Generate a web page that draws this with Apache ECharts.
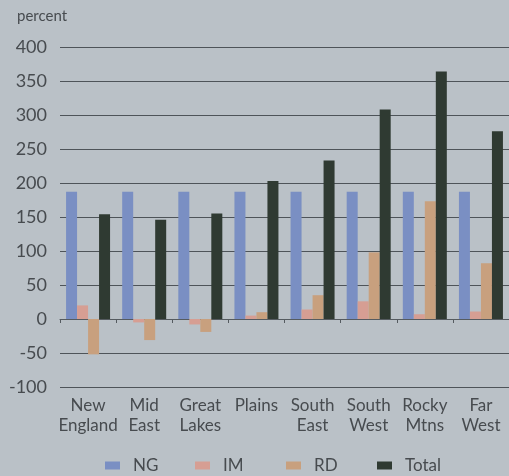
<!DOCTYPE html>
<html>
<head>
<meta charset="utf-8">
<script src="https://cdn.jsdelivr.net/npm/echarts@6/dist/echarts.min.js"></script>
<style>
  html, body { margin: 0; padding: 0; background: #bac1c7; }
  #chart { width: 509px; height: 476px; }
</style>
</head>
<body>
<div id="chart"></div>
<script>
// regions on the x axis
var regions = ['New\nEngland', 'Mid\nEast', 'Great\nLakes', 'Plains', 'South\nEast', 'South\nWest', 'Rocky\nMtns', 'Far\nWest'];

// series values (percent)
var ngValues = [187, 187, 187, 187, 187, 187, 187, 187];
var imValues = [20, -5, -8, 5, 14, 26, 7, 11];
var rdValues = [-52, -31, -19, 10, 35, 98, 173, 82];
var totalValues = [154, 146, 155, 203, 233, 308, 364, 276];

var seriesNames = ['NG', 'IM', 'RD', 'Total'];
var yTicks = { min: -100, max: 400, interval: 50 };

var myChart = echarts.init(document.getElementById('chart'));

var fontFam = 'Lato, "Open Sans", sans-serif';
var textGray = '#474b4f';

function barSeries(name, data, color) {
    return {
        name: name,
        type: 'bar',
        data: data,
        barWidth: 11,
        barGap: '0%',
        itemStyle: { color: color },
        animation: false
    };
}

// one legend per item so the spacing is even, like the original
var legendLeft = [100, 190, 281, 372];
var legends = seriesNames.map(function (n, i) {
    return {
        top: 452,
        left: legendLeft[i],
        itemWidth: 15,
        itemHeight: 8,
        icon: 'rect',
        textStyle: { color: textGray, fontSize: 17, fontFamily: fontFam, padding: [0, 0, 0, 8] },
        data: [n]
    };
});

var option = {
    backgroundColor: '#bac1c7',
    textStyle: { fontFamily: fontFam },
    grid: { left: 60, right: -7, top: 47, bottom: 89, containLabel: false },
    legend: legends,
    xAxis: {
        type: 'category',
        data: regions,
        axisLine: { onZero: true, lineStyle: { color: '#555b60', width: 1 } },
        axisTick: { show: true, length: 4, lineStyle: { color: '#555b60' } },
        axisLabel: {
            interval: 0,
            color: textGray,
            fontSize: 17,
            lineHeight: 20,
            margin: 9,
            fontFamily: fontFam
        },
        position: 'bottom'
    },
    yAxis: {
        type: 'value',
        min: yTicks.min,
        max: yTicks.max,
        interval: yTicks.interval,
        name: 'percent',
        nameLocation: 'end',
        nameGap: 23,
        nameTextStyle: { color: textGray, fontSize: 15, align: 'left', padding: [0, 0, 0, -43] },
        axisLine: { show: false },
        axisTick: { show: false },
        axisLabel: { color: textGray, fontSize: 18, margin: 13 },
        splitLine: { lineStyle: { color: '#4e5459', width: 1.2 } }
    },
    series: [
        barSeries(seriesNames[0], ngValues, '#7a8fc3'),
        barSeries(seriesNames[1], imValues, '#d69e93'),
        barSeries(seriesNames[2], rdValues, '#c8a07e'),
        barSeries(seriesNames[3], totalValues, '#2f3a32')
    ]
};

myChart.setOption(option);
</script>
</body>
</html>
